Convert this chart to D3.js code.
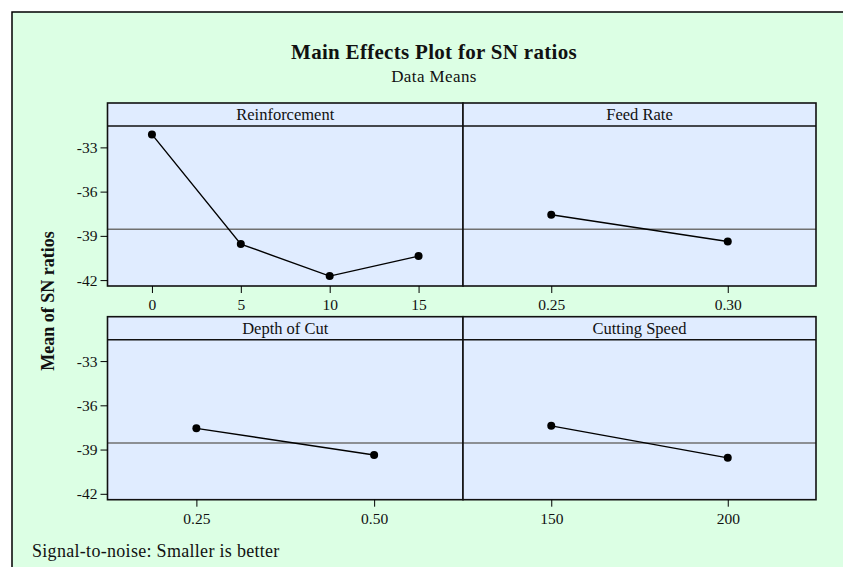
<!DOCTYPE html>
<html>
<head>
<meta charset="utf-8">
<script src="https://cdn.jsdelivr.net/npm/d3@7"></script>
<style>
  html, body { margin: 0; padding: 0; background: #fff; overflow: hidden; }
  svg { display: block; }
  text { font-family: "Liberation Serif", "DejaVu Serif", serif; fill: #111; }
</style>
</head>
<body>
<div id="wrapper"></div>
<script>
// data
const factors = ["Reinforcement", "Feed Rate", "Depth of Cut", "Cutting Speed"];
const reinforcementLevels = ["0", "5", "10", "15"];
const reinforcementSN = [-32.12, -39.56, -41.73, -40.37];
const feedLevels = ["0.25", "0.30"];
const feedSN = [-37.57, -39.38];
const depthLevels = ["0.25", "0.50"];
const depthSN = [-37.56, -39.37];
const speedLevels = ["150", "200"];
const speedSN = [-37.39, -39.56];
const grandMean = -38.55;
const yTicks = [-33, -36, -39, -42];

const panels = [
  {name: factors[0], levels: reinforcementLevels, values: reinforcementSN, col: 0, row: 0},
  {name: factors[1], levels: feedLevels, values: feedSN, col: 1, row: 0},
  {name: factors[2], levels: depthLevels, values: depthSN, col: 0, row: 1},
  {name: factors[3], levels: speedLevels, values: speedSN, col: 1, row: 1}
];

const width = 843, height = 567;
const colX = [107.5, 463, 816];
const rowTop = [103, 316.7];
const headerH = 23;
const panelH = 183;

const svg = d3.select("#wrapper").append("svg")
  .attr("width", width).attr("height", height);

// outer frame: only top and left edges are on the page
svg.append("rect")
  .attr("x", 12).attr("y", 12)
  .attr("width", width - 12).attr("height", height - 12)
  .attr("fill", "#dcffe4");
svg.append("path")
  .attr("d", `M12,${height}V12H${width}`)
  .attr("fill", "none")
  .attr("stroke", "#000").attr("stroke-width", 1.5);

svg.append("text")
  .attr("x", 434).attr("y", 59)
  .attr("text-anchor", "middle")
  .style("font-size", "21px").style("font-weight", "bold")
  .style("letter-spacing", "0.3px")
  .text("Main Effects Plot for SN ratios");

svg.append("text")
  .attr("x", 434).attr("y", 82)
  .attr("text-anchor", "middle")
  .style("font-size", "17px").style("letter-spacing", "0.4px")
  .text("Data Means");

svg.append("text")
  .attr("transform", "translate(54,301) rotate(-90)")
  .attr("text-anchor", "middle")
  .style("font-size", "18px").style("font-weight", "bold")
  .text("Mean of SN ratios");

svg.append("text")
  .attr("x", 32).attr("y", 557)
  .style("font-size", "18px").style("letter-spacing", "0.3px")
  .text("Signal-to-noise: Smaller is better");

panels.forEach(p => {
  const x0 = colX[p.col], x1 = colX[p.col + 1];
  const top = rowTop[p.row];
  const dataTop = top + headerH, bottom = top + panelH;

  const x = d3.scalePoint().domain(p.levels).range([x0, x1]).padding(0.5);
  const y = d3.scaleLinear().domain([-42.4, -31.55]).range([bottom, dataTop]);

  const g = svg.append("g");

  g.append("rect")
    .attr("x", x0).attr("y", top)
    .attr("width", x1 - x0).attr("height", panelH)
    .attr("fill", "#e0ecff");

  // grand mean reference line
  g.append("line")
    .attr("x1", x0).attr("x2", x1)
    .attr("y1", y(grandMean)).attr("y2", y(grandMean))
    .attr("stroke", "#707070").attr("stroke-width", 1.5);

  const pts = p.levels.map((l, i) => [x(l), y(p.values[i])]);
  g.append("path")
    .attr("d", d3.line()(pts))
    .attr("fill", "none").attr("stroke", "#000").attr("stroke-width", 1.4);
  g.selectAll("circle").data(pts).enter().append("circle")
    .attr("cx", d => d[0]).attr("cy", d => d[1]).attr("r", 4)
    .attr("fill", "#000");

  // header strip
  g.append("line")
    .attr("x1", x0).attr("x2", x1)
    .attr("y1", dataTop).attr("y2", dataTop)
    .attr("stroke", "#111").attr("stroke-width", 1.6);
  g.append("text")
    .attr("x", (x0 + x1) / 2).attr("y", top + 17)
    .attr("text-anchor", "middle")
    .style("font-size", "16.5px")
    .text(p.name);

  g.append("rect")
    .attr("x", x0).attr("y", top)
    .attr("width", x1 - x0).attr("height", panelH)
    .attr("fill", "none").attr("stroke", "#111").attr("stroke-width", 1.6);

  const xAxis = g.append("g")
    .attr("transform", `translate(0,${bottom})`)
    .call(d3.axisBottom(x).tickSize(7).tickPadding(6));
  xAxis.select(".domain").remove();
  xAxis.selectAll("text").style("font-size", "15.5px").attr("fill", "#222")
    .style("font-family", "'Liberation Serif', serif");

  if (p.col === 0) {
    const yAxis = g.append("g")
      .attr("transform", `translate(${x0},0)`)
      .call(d3.axisLeft(y).tickValues(yTicks).tickSize(7).tickPadding(3)
        .tickFormat(d => "-" + Math.abs(d)));
    yAxis.select(".domain").remove();
    yAxis.selectAll("text").style("font-size", "15.5px").attr("fill", "#222")
      .style("font-family", "'Liberation Serif', serif");
  }
});
</script>
</body>
</html>
